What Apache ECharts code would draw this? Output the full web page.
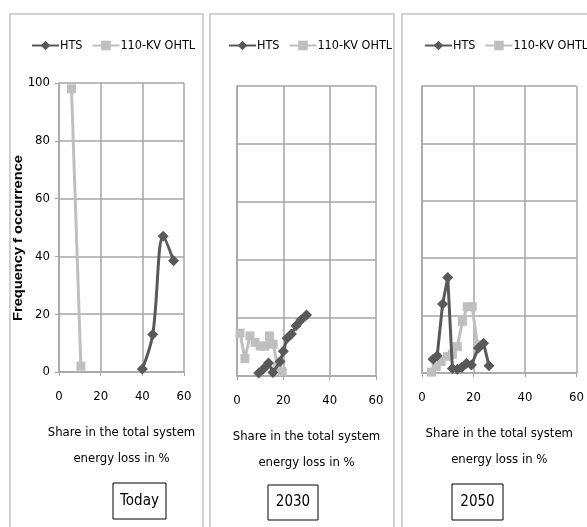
<!DOCTYPE html>
<html>
<head>
<meta charset="utf-8">
<script src="https://cdn.jsdelivr.net/npm/echarts@6/dist/echarts.min.js"></script>
<style>
  html, body { margin: 0; padding: 0; background: #fff; }
  #chart { width: 587px; height: 527px; }
</style>
</head>
<body>
<div id="chart"></div>
<script>
// Scenario panels
const scenarios = ['Today', '2030', '2050'];
const seriesNames = ['HTS', '110-KV OHTL'];
const xTicks = [0, 20, 40, 60];
const yTicks = [0, 20, 40, 60, 80, 100];
const xTitle = 'Share in the total system\nenergy loss in %';
const yTitle = 'Frequency f occurrence';

// [share of total system energy loss in %, frequency of occurrence]
const htsToday = [[40, 1], [45, 13], [50, 47], [55, 38.5]];
const ohtlToday = [[6, 98], [10.5, 2]];

const hts2030 = [[9.4, 1], [11.5, 2.5], [13.6, 4.5], [15.5, 1.2], [18.6, 5], [20, 8.5],
                 [21.6, 13], [23.5, 14.5], [25.5, 17.3], [27.6, 19.3], [30, 21]];
const ohtl2030 = [[1.3, 14.8], [3.4, 6], [5.6, 13.8], [7.8, 11.6], [10, 10.3], [12, 10.3],
                  [14, 13.8], [15.6, 11], [17.6, 3.3], [19.5, 1.5]];

const hts2050 = [[4.3, 4.8], [5.9, 6], [8, 24], [10, 33.3], [11.8, 1.6], [13.7, 1.3],
                 [15.4, 1.9], [17.3, 3.4], [19.2, 2.8], [21.9, 8.7], [23.9, 10.4], [26, 2.5]];
const ohtl2050 = [[3.7, 0.3], [5.5, 2.2], [7.4, 4], [9.9, 5.8], [11.8, 6.5], [13.7, 9.2],
                  [15.7, 18], [17.6, 23.1], [19.5, 23.1], [21.5, 9.8]];

const htsData = [htsToday, hts2030, hts2050];
const ohtlData = [ohtlToday, ohtl2030, ohtl2050];

const FONT = '"Liberation Sans Narrow", "DejaVu Sans Condensed", sans-serif';
const DARK = '#595959';
const LIGHT = '#bfbfbf';
const GRID_LINE = '#a6a6a6';

// panel layout
const grids = [
  { left: 59, top: 83, width: 125, height: 289 },
  { left: 237, top: 86, width: 139, height: 290 },
  { left: 422, top: 86, width: 158, height: 287 }
];
const panels = [
  { x: 10, y: 14, w: 193 },
  { x: 210, y: 14, w: 184 },
  { x: 402, y: 14, w: 200 }
];
const legendLeft = [31, 228, 424];
const boxes = [
  { x: 113, y: 483, w: 53, h: 36 },
  { x: 268, y: 485, w: 50, h: 35 },
  { x: 452, y: 484, w: 51, h: 36 }
];

const chart = echarts.init(document.getElementById('chart'), null, { renderer: 'canvas' });

const xAxes = grids.map((g, i) => ({
  type: 'value', gridIndex: i, min: xTicks[0], max: xTicks[xTicks.length - 1], interval: 20,
  name: xTitle,
  nameLocation: 'middle', nameGap: 48,
  nameTextStyle: { fontFamily: FONT, fontSize: 13, color: '#000', lineHeight: 26 },
  axisLine: { show: true, lineStyle: { color: GRID_LINE, width: 1.5 } },
  axisTick: { show: true, length: 4, lineStyle: { color: GRID_LINE } },
  axisLabel: { fontFamily: FONT, fontSize: 13, color: '#000', margin: 18 },
  splitLine: { show: true, lineStyle: { color: GRID_LINE, width: 1.5 } }
}));

const yAxes = grids.map((g, i) => ({
  type: 'value', gridIndex: i, min: yTicks[0], max: yTicks[yTicks.length - 1], interval: 20,
  axisLine: { show: true, lineStyle: { color: GRID_LINE, width: 1.5 } },
  axisTick: { show: i === 0, length: 4, lineStyle: { color: GRID_LINE } },
  axisLabel: { show: i === 0, fontFamily: FONT, fontSize: 13, color: '#000', margin: 9 },
  splitLine: { show: true, lineStyle: { color: GRID_LINE, width: 1.5 } }
}));

const series = [];
scenarios.forEach((s, i) => {
  series.push({
    name: seriesNames[1], type: 'line', xAxisIndex: i, yAxisIndex: i,
    data: ohtlData[i], symbol: 'rect', symbolSize: 9,
    lineStyle: { color: LIGHT, width: 3 }, itemStyle: { color: LIGHT },
    z: 2, animation: false
  });
  series.push({
    name: seriesNames[0], type: 'line', xAxisIndex: i, yAxisIndex: i,
    data: htsData[i], symbol: 'diamond', symbolSize: 11,
    smooth: i === 0 ? 0.35 : false,
    lineStyle: { color: DARK, width: 3 }, itemStyle: { color: DARK },
    z: 3, animation: false
  });
});

const legends = legendLeft.map(l => ({
  left: l, top: 39, width: 220, padding: 0, data: seriesNames,
  itemWidth: 27, itemHeight: 12, itemGap: 9,
  textStyle: { fontFamily: FONT, fontSize: 12.5, color: '#000', padding: [0, 0, 0, -4] },
  selectedMode: false
}));

const graphics = [];
panels.forEach(p => {
  graphics.push({
    type: 'rect', silent: true, z: -1,
    shape: { x: p.x, y: p.y, width: p.w, height: 560 },
    style: { fill: null, stroke: '#c4c4c4', lineWidth: 1.5 }
  });
});
// vertical title of the frequency axis
graphics.push({
  type: 'text', silent: true,
  x: 19, y: 238, rotation: Math.PI / 2, scaleX: 1.22,
  style: { text: yTitle, fontFamily: '"Liberation Sans", Arial, sans-serif', fontWeight: 'bold',
           fontSize: 12, fill: '#000', align: 'center', verticalAlign: 'middle' }
});
boxes.forEach((b, i) => {
  graphics.push({
    type: 'rect', silent: true,
    shape: { x: b.x, y: b.y, width: b.w, height: b.h },
    style: { fill: '#fff', stroke: '#000', lineWidth: 1 }
  });
  graphics.push({
    type: 'text', silent: true,
    x: b.x + b.w / 2, y: b.y + b.h / 2,
    style: { text: scenarios[i], fontFamily: FONT, fontSize: 15, fill: '#000', align: 'center', verticalAlign: 'middle' }
  });
});

chart.setOption({
  backgroundColor: '#fff',
  animation: false,
  grid: grids.map(g => Object.assign({ containLabel: false }, g)),
  xAxis: xAxes,
  yAxis: yAxes,
  legend: legends,
  series: series,
  graphic: graphics
});
</script>
</body>
</html>
